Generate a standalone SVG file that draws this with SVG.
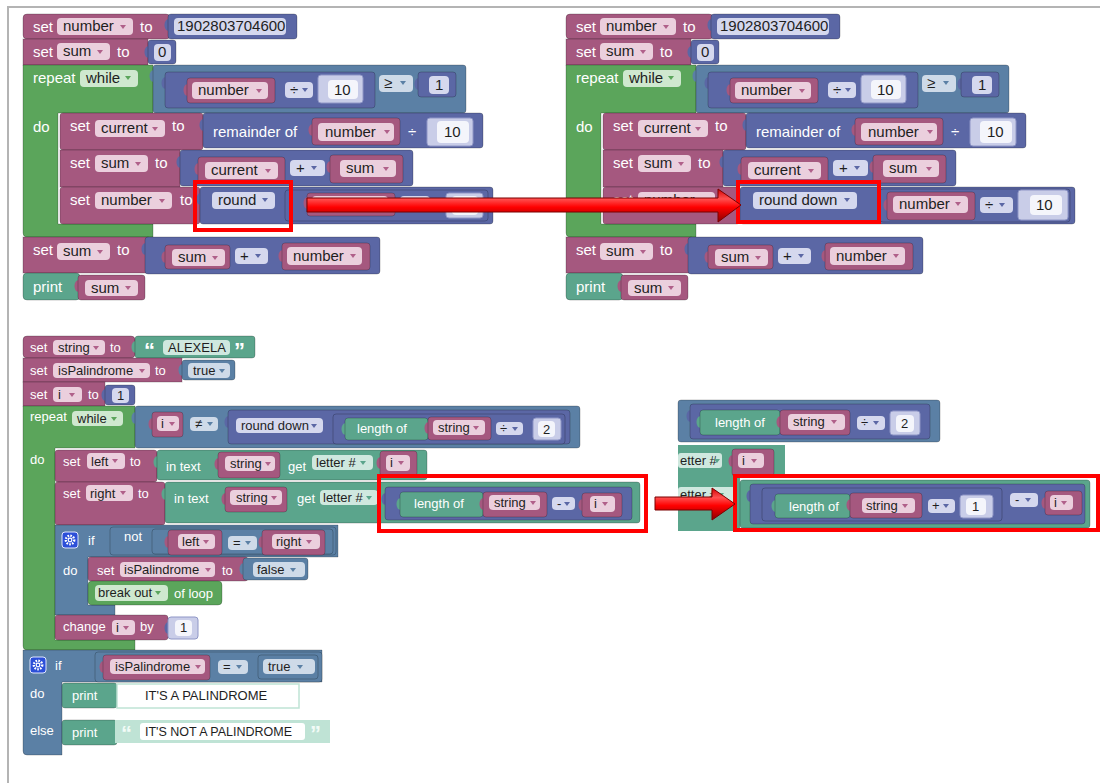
<svg xmlns="http://www.w3.org/2000/svg" xmlns:xlink="http://www.w3.org/1999/xlink" width="1100" height="783" viewBox="0 0 1100 783">
<style>
  text { font-family: "Liberation Sans", Arial, sans-serif; }
  .big text { font-size: 15px; }
  .small text { font-size: 13px; }
  .small text.q { font-size: 22px; font-weight: bold; }
  .w { fill: #fff; }
  .k { fill: #1e1e1e; }
  .b { stroke: rgba(0,0,0,0.22); stroke-width: 1; }
  .v { fill: #A5587F; }
  .m { fill: #5B67A5; }
  .l { fill: #5B80A5; }
  .g { fill: #5BA55B; }
  .t { fill: #5BA58C; }
  .sh { fill: #C9CDE8; stroke: #8f96c6; stroke-width: 1; }
  .fv { fill: #EBCFDD; }
  .fm { fill: #D5D8EE; }
  .fl { fill: #CEDAE8; }
  .fg { fill: #CFE8CF; }
  .ft { fill: #CFE8DF; }
  .fw { fill: #F4F5FB; }
  .av { fill: #B0608A; }
  .am { fill: #5B67A5; }
  .al { fill: #5B80A5; }
  .ag { fill: #5BA55B; }
  .at { fill: #5BA58C; }
  .box { fill: none; stroke: #FF0000; stroke-width: 4; }
  .arrow { fill: url(#redGlow); stroke: #7a0000; stroke-width: 1; }
</style>
<defs>
  <path id="dv" d="M0,0 h6 l-3,4 z"/>
  <path id="tab" d="M1,0 C-5,0 -5,12 1,12 Z"/>
  <g id="gear">
    <rect width="16" height="16" rx="3" fill="#2c4fd8" stroke="#dfe6ff"/>
    <circle cx="8" cy="8" r="4.2" fill="none" stroke="#fff" stroke-width="2.4" stroke-dasharray="1.6 1.2"/>
    <circle cx="8" cy="8" r="2.4" fill="#fff"/>
    <circle cx="8" cy="8" r="1.2" fill="#2c4fd8"/>
  </g>
  <linearGradient id="redGlow" x1="0" y1="0" x2="0" y2="1">
    <stop offset="0" stop-color="#d40000"/>
    <stop offset="0.3" stop-color="#ff5050"/>
    <stop offset="0.55" stop-color="#ff0000"/>
    <stop offset="1" stop-color="#8a0000"/>
  </linearGradient>
</defs>

<rect width="1100" height="783" fill="#fff"/>
<!-- page frame -->
<path d="M8,783 V7 H1100" fill="none" stroke="#b4b4b4" stroke-width="2"/>

<!-- ===== program 1 (shared rows) ===== -->
<g id="prog1" class="big">
  <g id="p1-set-number">
    <rect class="v b" x="23" y="14" width="147" height="25" rx="4"/>
    <text class="w" x="33" y="32">set</text>
    <rect class="fv" x="57" y="18" width="76" height="17" rx="4"/>
    <text class="k" x="63" y="31">number</text>
    <use href="#dv" x="120" y="25" class="av"/>
    <text class="w" x="140" y="32">to</text>
    <use href="#tab" x="168" y="19" class="m"/>
    <rect class="m b" x="168" y="14" width="129" height="25" rx="3"/>
    <rect class="fm" x="174" y="18" width="112" height="17" rx="4"/>
    <text class="k" x="177" y="31">1902803704600</text>
  </g>
  <g id="p1-set-sum">
    <rect class="v b" x="23" y="39" width="125" height="26"/>
    <text class="w" x="33" y="57">set</text>
    <rect class="fv" x="57" y="43" width="53" height="17" rx="4"/>
    <text class="k" x="63" y="56">sum</text>
    <use href="#dv" x="97" y="50" class="av"/>
    <text class="w" x="117" y="57">to</text>
    <use href="#tab" x="148" y="46" class="m"/>
    <rect class="m b" x="148" y="40" width="28" height="24" rx="3"/>
    <rect class="fm" x="154" y="44" width="17" height="17" rx="4"/>
    <text class="k" x="158" y="57">0</text>
  </g>
  <g id="p1-repeat">
    <path class="g b" d="M23,65 H153 V113 H58 V224 H153 V237 H27 Q23,237 23,233 Z"/>
    <text class="w" x="33" y="83">repeat</text>
    <rect class="fg" x="80" y="70" width="58" height="17" rx="4"/>
    <text class="k" x="86" y="83">while</text>
    <use href="#dv" x="125" y="76" class="ag"/>
    <text class="w" x="33" y="132">do</text>
    <use href="#tab" x="153" y="70" class="l"/>
    <rect class="l b" x="153" y="65" width="313" height="48" rx="3"/>
    <use href="#tab" x="165" y="77" class="m"/>
    <rect class="m b" x="165" y="72" width="210" height="36" rx="3"/>
    <use href="#tab" x="187" y="84" class="v"/>
    <rect class="v b" x="187" y="78" width="88" height="25" rx="3"/>
    <rect class="fv" x="192" y="82" width="76" height="17" rx="4"/>
    <text class="k" x="198" y="95">number</text>
    <use href="#dv" x="256" y="89" class="av"/>
    <rect class="fm" x="285" y="82" width="28" height="16" rx="4"/>
    <text class="k" x="290" y="95">÷</text>
    <use href="#dv" x="302" y="88" class="am"/>
    <use href="#tab" x="318" y="82" class="m"/>
    <rect class="sh" x="318" y="75" width="45" height="28" rx="3"/>
    <rect class="fw" x="328" y="80" width="30" height="19" rx="4"/>
    <text class="k" x="334" y="95">10</text>
    <rect class="fl" x="379" y="75" width="34" height="17" rx="4"/>
    <text class="k" x="384" y="88">≥</text>
    <use href="#dv" x="400" y="81" class="al"/>
    <use href="#tab" x="418" y="78" class="m"/>
    <rect class="m b" x="418" y="72" width="38" height="25" rx="3"/>
    <rect class="fm" x="429" y="76" width="20" height="18" rx="4"/>
    <text class="k" x="435" y="90">1</text>
  </g>
  <g id="p1-set-current">
    <rect class="v b" x="60" y="113" width="143" height="37" rx="3"/>
    <text class="w" x="70" y="131">set</text>
    <rect class="fv" x="95" y="120" width="70" height="17" rx="4"/>
    <text class="k" x="101" y="133">current</text>
    <use href="#dv" x="152" y="127" class="av"/>
    <text class="w" x="172" y="131">to</text>
    <use href="#tab" x="203" y="119" class="m"/>
    <rect class="m b" x="203" y="113" width="280" height="35" rx="3"/>
    <text class="w" x="213" y="137">remainder of</text>
    <use href="#tab" x="312" y="124" class="v"/>
    <rect class="v b" x="312" y="118" width="88" height="27" rx="3"/>
    <rect class="fv" x="318" y="123" width="76" height="18" rx="4"/>
    <text class="k" x="325" y="137">number</text>
    <use href="#dv" x="384" y="130" class="av"/>
    <text class="w" x="408" y="137">÷</text>
    <use href="#tab" x="427" y="124" class="m"/>
    <rect class="sh" x="427" y="118" width="46" height="28" rx="3"/>
    <rect class="fw" x="437" y="121" width="32" height="22" rx="4"/>
    <text class="k" x="444" y="137">10</text>
  </g>
  <g id="p1-set-sum-2">
    <rect class="v b" x="60" y="150" width="120" height="37"/>
    <text class="w" x="70" y="168">set</text>
    <rect class="fv" x="95" y="155" width="53" height="17" rx="4"/>
    <text class="k" x="101" y="168">sum</text>
    <use href="#dv" x="135" y="162" class="av"/>
    <text class="w" x="155" y="168">to</text>
    <use href="#tab" x="180" y="156" class="m"/>
    <rect class="m b" x="180" y="150" width="233" height="36" rx="3"/>
    <use href="#tab" x="198" y="163" class="v"/>
    <rect class="v b" x="198" y="157" width="87" height="26" rx="3"/>
    <rect class="fv" x="205" y="162" width="73" height="17" rx="4"/>
    <text class="k" x="211" y="175">current</text>
    <use href="#dv" x="265" y="169" class="av"/>
    <rect class="fm" x="290" y="160" width="35" height="16" rx="4"/>
    <text class="k" x="296" y="173">+</text>
    <use href="#dv" x="311" y="166" class="am"/>
    <use href="#tab" x="330" y="161" class="v"/>
    <rect class="v b" x="330" y="155" width="73" height="28" rx="3"/>
    <rect class="fv" x="340" y="160" width="56" height="17" rx="4"/>
    <text class="k" x="346" y="173">sum</text>
    <use href="#dv" x="383" y="167" class="av"/>
  </g>
  <g id="p1-set-sum-3">
    <rect class="v b" x="23" y="237" width="125" height="36"/>
    <text class="w" x="33" y="255">set</text>
    <rect class="fv" x="57" y="243" width="53" height="17" rx="4"/>
    <text class="k" x="63" y="256">sum</text>
    <use href="#dv" x="97" y="250" class="av"/>
    <text class="w" x="117" y="255">to</text>
    <use href="#tab" x="145" y="243" class="m"/>
    <rect class="m b" x="145" y="237" width="235" height="37" rx="3"/>
    <use href="#tab" x="165" y="251" class="v"/>
    <rect class="v b" x="165" y="245" width="65" height="24" rx="3"/>
    <rect class="fv" x="172" y="249" width="53" height="17" rx="4"/>
    <text class="k" x="178" y="262">sum</text>
    <use href="#dv" x="212" y="256" class="av"/>
    <rect class="fm" x="235" y="248" width="33" height="16" rx="4"/>
    <text class="k" x="240" y="261">+</text>
    <use href="#dv" x="255" y="254" class="am"/>
    <use href="#tab" x="282" y="250" class="v"/>
    <rect class="v b" x="282" y="243" width="88" height="27" rx="3"/>
    <rect class="fv" x="287" y="247" width="75" height="18" rx="4"/>
    <text class="k" x="293" y="261">number</text>
    <use href="#dv" x="350" y="254" class="av"/>
  </g>
  <g id="p1-print">
    <rect class="t b" x="23" y="273" width="57" height="27" rx="4"/>
    <text class="w" x="33" y="292">print</text>
    <use href="#tab" x="78" y="280" class="v"/>
    <rect class="v b" x="78" y="275" width="67" height="25" rx="3"/>
    <rect class="fv" x="85" y="280" width="53" height="16" rx="4"/>
    <text class="k" x="91" y="293">sum</text>
    <use href="#dv" x="125" y="286" class="av"/>
  </g>
</g>

<!-- program 1, "set number" row with round -->
<g id="p1-set-number-round" class="big">
  <rect class="v b" x="60" y="187" width="140" height="37" rx="3"/>
  <text class="w" x="70" y="205">set</text>
  <rect class="fv" x="95" y="192" width="77" height="17" rx="4"/>
  <text class="k" x="101" y="205">number</text>
  <use href="#dv" x="159" y="199" class="av"/>
  <text class="w" x="180" y="205">to</text>
  <use href="#tab" x="200" y="193" class="m"/>
  <rect class="m b" x="200" y="187" width="293" height="37" rx="3"/>
  <rect class="fm" x="212" y="192" width="63" height="17" rx="4"/>
  <text class="k" x="218" y="205">round</text>
  <use href="#dv" x="262" y="198" class="am"/>
  <use href="#tab" x="285" y="195" class="m"/>
  <rect class="m b" x="285" y="190" width="203" height="31" rx="3"/>
  <use href="#tab" x="307" y="197" class="v"/>
  <rect class="v b" x="307" y="193" width="88" height="23" rx="3"/>
  <rect class="fv" x="312" y="196" width="76" height="16" rx="4"/>
  <rect class="fm" x="400" y="196" width="30" height="15" rx="4"/>
  <rect class="sh" x="446" y="193" width="37" height="25" rx="3"/>
  <rect class="fw" x="452" y="196" width="26" height="19" rx="4"/>
</g>

<!-- ===== program 2 (same rows, shifted) ===== -->
<use id="prog2" href="#prog1" transform="translate(543,0)"/>
<g id="p2-set-number-rounddown" class="big">
  <rect class="v b" x="603" y="187" width="137" height="37" rx="3"/>
  <text class="w" x="613" y="205">set</text>
  <rect class="fv" x="638" y="192" width="77" height="17" rx="4"/>
  <text class="k" x="644" y="205">number</text>
  <use href="#dv" x="702" y="199" class="av"/>
  <use href="#tab" x="740" y="193" class="m"/>
  <rect class="m b" x="740" y="187" width="335" height="37" rx="3"/>
  <rect class="fm" x="753" y="192" width="104" height="17" rx="4"/>
  <text class="k" x="759" y="205">round down</text>
  <use href="#dv" x="844" y="198" class="am"/>
  <use href="#tab" x="880" y="195" class="m"/>
  <rect class="m b" x="880" y="189" width="190" height="33" rx="3"/>
  <use href="#tab" x="887" y="199" class="v"/>
  <rect class="v b" x="887" y="192" width="88" height="28" rx="3"/>
  <rect class="fv" x="893" y="196" width="75" height="17" rx="4"/>
  <text class="k" x="899" y="209">number</text>
  <use href="#dv" x="955" y="202" class="av"/>
  <rect class="fm" x="980" y="197" width="33" height="16" rx="4"/>
  <text class="k" x="985" y="210">÷</text>
  <use href="#dv" x="999" y="203" class="am"/>
  <use href="#tab" x="1018" y="198" class="m"/>
  <rect class="sh" x="1018" y="190" width="50" height="30" rx="3"/>
  <rect class="fw" x="1030" y="195" width="32" height="20" rx="4"/>
  <text class="k" x="1036" y="210">10</text>
</g>

<!-- ===== program 3: palindrome check ===== -->
<g id="prog3" class="small">
  <g id="p3-set-string">
    <rect class="v b" x="23" y="336" width="112" height="22" rx="4"/>
    <text class="w" x="30" y="352">set</text>
    <rect class="fv" x="53" y="340" width="52" height="15" rx="4"/>
    <text class="k" x="58" y="352">string</text>
    <use href="#dv" x="93" y="346" class="av"/>
    <text class="w" x="110" y="352">to</text>
    <use href="#tab" x="135" y="341" class="t"/>
    <rect class="t b" x="135" y="336" width="120" height="22" rx="3"/>
    <text class="w q" x="144" y="358">“</text>
    <rect class="ft" x="163" y="340" width="67" height="15" rx="4"/>
    <text class="k" x="168" y="352">ALEXELA</text>
    <text class="w q" x="234" y="358">”</text>
  </g>
  <g id="p3-set-ispal">
    <rect class="v b" x="23" y="358" width="159" height="24"/>
    <text class="w" x="30" y="375">set</text>
    <rect class="fv" x="53" y="363" width="97" height="15" rx="4"/>
    <text class="k" x="58" y="375">isPalindrome</text>
    <use href="#dv" x="139" y="369" class="av"/>
    <text class="w" x="155" y="375">to</text>
    <use href="#tab" x="182" y="364" class="l"/>
    <rect class="l b" x="182" y="360" width="53" height="20" rx="3"/>
    <rect class="fl" x="188" y="363" width="42" height="15" rx="4"/>
    <text class="k" x="193" y="375">true</text>
    <use href="#dv" x="219" y="369" class="al"/>
  </g>
  <g id="p3-set-i">
    <rect class="v b" x="23" y="382" width="82" height="24"/>
    <text class="w" x="30" y="399">set</text>
    <rect class="fv" x="53" y="387" width="29" height="15" rx="4"/>
    <text class="k" x="58" y="399">i</text>
    <use href="#dv" x="69" y="393" class="av"/>
    <text class="w" x="88" y="399">to</text>
    <use href="#tab" x="105" y="389" class="m"/>
    <rect class="m b" x="105" y="385" width="30" height="20" rx="3"/>
    <rect class="fm" x="112" y="388" width="17" height="15" rx="4"/>
    <text class="k" x="117" y="400">1</text>
  </g>
  <g id="p3-repeat">
    <path class="g b" d="M23,406 H135 V448 H55 V640 H135 V650 H27 Q23,650 23,646 Z"/>
    <text class="w" x="30" y="421">repeat</text>
    <rect class="fg" x="72" y="411" width="51" height="15" rx="4"/>
    <text class="k" x="77" y="423">while</text>
    <use href="#dv" x="111" y="417" class="ag"/>
    <text class="w" x="30" y="464">do</text>
    <use href="#tab" x="135" y="412" class="l"/>
    <rect class="l b" x="135" y="406" width="445" height="42" rx="3"/>
    <use href="#tab" x="152" y="418" class="v"/>
    <rect class="v b" x="152" y="412" width="31" height="25" rx="3"/>
    <rect class="fv" x="157" y="416" width="22" height="15" rx="4"/>
    <text class="k" x="161" y="428">i</text>
    <use href="#dv" x="169" y="422" class="av"/>
    <rect class="fl" x="190" y="417" width="28" height="14" rx="4"/>
    <text class="k" x="195" y="428">≠</text>
    <use href="#dv" x="207" y="422" class="al"/>
    <use href="#tab" x="228" y="416" class="m"/>
    <rect class="m b" x="228" y="410" width="342" height="34" rx="3"/>
    <rect class="fm" x="236" y="418" width="87" height="15" rx="4"/>
    <text class="k" x="241" y="430">round down</text>
    <use href="#dv" x="311" y="424" class="am"/>
    <use href="#tab" x="333" y="420" class="m"/>
    <rect class="m b" x="333" y="414" width="232" height="30" rx="3"/>
    <use href="#tab" x="345" y="423" class="t"/>
    <rect class="t b" x="345" y="418" width="83" height="22" rx="3"/>
    <text class="w" x="357" y="433">length of</text>
    <use href="#tab" x="428" y="422" class="v"/>
    <rect class="v b" x="428" y="417" width="63" height="23" rx="3"/>
    <rect class="fv" x="433" y="420" width="52" height="15" rx="4"/>
    <text class="k" x="438" y="432">string</text>
    <use href="#dv" x="473" y="426" class="av"/>
    <rect class="fm" x="496" y="422" width="27" height="13" rx="4"/>
    <text class="k" x="500" y="433">÷</text>
    <use href="#dv" x="512" y="427" class="am"/>
    <use href="#tab" x="533" y="423" class="m"/>
    <rect class="sh" x="533" y="418" width="28" height="22" rx="3"/>
    <rect class="fw" x="538" y="421" width="17" height="16" rx="4"/>
    <text class="k" x="543" y="434">2</text>
  </g>
  <g id="p3-set-left">
    <rect class="v b" x="55" y="450" width="102" height="32" rx="3"/>
    <text class="w" x="63" y="466">set</text>
    <rect class="fv" x="87" y="453" width="38" height="16" rx="4"/>
    <text class="k" x="91" y="465.5">left</text>
    <use href="#dv" x="112" y="459" class="av"/>
    <text class="w" x="130" y="466">to</text>
    <use href="#tab" x="157" y="456" class="t"/>
    <rect class="t b" x="157" y="450" width="270" height="30" rx="3"/>
    <text class="w" x="166" y="471">in text</text>
    <use href="#tab" x="218" y="458" class="v"/>
    <rect class="v b" x="218" y="452" width="62" height="26" rx="3"/>
    <rect class="fv" x="225" y="456" width="50" height="15" rx="4"/>
    <text class="k" x="230" y="468">string</text>
    <use href="#dv" x="265" y="462" class="av"/>
    <text class="w" x="288" y="471">get</text>
    <rect class="ft" x="312" y="455" width="61" height="15" rx="4"/>
    <text class="k" x="316" y="467">letter #</text>
    <use href="#dv" x="360" y="461" class="at"/>
    <use href="#tab" x="380" y="457" class="v"/>
    <rect class="v b" x="380" y="451" width="37" height="25" rx="3"/>
    <rect class="fv" x="386" y="455" width="24" height="16" rx="4"/>
    <text class="k" x="390" y="467">i</text>
    <use href="#dv" x="398" y="461" class="av"/>
  </g>
  <g id="p3-set-right">
    <rect class="v b" x="55" y="482" width="110" height="43" rx="3"/>
    <text class="w" x="63" y="498">set</text>
    <rect class="fv" x="86" y="485" width="47" height="16" rx="4"/>
    <text class="k" x="90" y="497.5">right</text>
    <use href="#dv" x="120" y="491" class="av"/>
    <text class="w" x="138" y="498">to</text>
    <use href="#tab" x="165" y="488" class="t"/>
    <rect class="t b" x="165" y="482" width="475" height="41" rx="3"/>
    <text class="w" x="174" y="503">in text</text>
    <use href="#tab" x="225" y="493" class="v"/>
    <rect class="v b" x="225" y="487" width="62" height="25" rx="3"/>
    <rect class="fv" x="230" y="490" width="52" height="15" rx="4"/>
    <text class="k" x="236" y="502">string</text>
    <use href="#dv" x="271" y="496" class="av"/>
    <text class="w" x="297" y="503">get</text>
    <rect class="ft" x="320" y="490" width="58" height="15" rx="4"/>
    <text class="k" x="323" y="502">letter #</text>
    <use href="#dv" x="366" y="496" class="at"/>
    <use href="#tab" x="385" y="493" class="m"/>
    <rect class="m b" x="385" y="487" width="247" height="33" rx="3"/>
    <use href="#tab" x="400" y="498" class="t"/>
    <rect class="t b" x="400" y="492" width="83" height="25" rx="3"/>
    <text class="w" x="414" y="508">length of</text>
    <use href="#tab" x="483" y="498" class="v"/>
    <rect class="v b" x="483" y="492" width="64" height="25" rx="3"/>
    <rect class="fv" x="489" y="495" width="51" height="15" rx="4"/>
    <text class="k" x="494" y="507">string</text>
    <use href="#dv" x="530" y="501" class="av"/>
    <rect class="fm" x="552" y="497" width="23" height="13" rx="4"/>
    <text class="k" x="557" y="508">-</text>
    <use href="#dv" x="564" y="502" class="am"/>
    <use href="#tab" x="582" y="499" class="v"/>
    <rect class="v b" x="582" y="493" width="40" height="24" rx="3"/>
    <rect class="fv" x="590" y="496" width="25" height="16" rx="4"/>
    <text class="k" x="594" y="508">i</text>
    <use href="#dv" x="602" y="502" class="av"/>
  </g>
  <g id="p3-if-not">
    <path class="l b" d="M55,525 H338 V557 H88 V605 H115 V615 H55 Z"/>
    <use href="#gear" x="62" y="532"/>
    <text class="w" x="88" y="545">if</text>
    <use href="#tab" x="110" y="532" class="l"/>
    <rect class="l b" x="110" y="527" width="226" height="28" rx="3"/>
    <text class="w" x="124" y="541">not</text>
    <use href="#tab" x="152" y="535" class="l"/>
    <rect class="l b" x="152" y="529" width="181" height="25" rx="3"/>
    <use href="#tab" x="168" y="536" class="v"/>
    <rect class="v b" x="168" y="530" width="54" height="25" rx="3"/>
    <rect class="fv" x="178" y="534" width="37" height="15" rx="4"/>
    <text class="k" x="182" y="546">left</text>
    <use href="#dv" x="203" y="540" class="av"/>
    <rect class="fl" x="228" y="536" width="29" height="14" rx="4"/>
    <text class="k" x="233" y="547">=</text>
    <use href="#dv" x="245" y="541" class="al"/>
    <use href="#tab" x="262" y="536" class="v"/>
    <rect class="v b" x="262" y="530" width="63" height="25" rx="3"/>
    <rect class="fv" x="272" y="534" width="48" height="15" rx="4"/>
    <text class="k" x="276" y="546">right</text>
    <use href="#dv" x="306" y="540" class="av"/>
    <text class="w" x="63" y="575">do</text>
  </g>
  <g id="p3-set-false">
    <rect class="v b" x="88" y="557" width="160" height="24" rx="3"/>
    <text class="w" x="97" y="575">set</text>
    <rect class="fv" x="120" y="562" width="95" height="15" rx="4"/>
    <text class="k" x="124" y="574">isPalindrome</text>
    <use href="#dv" x="205" y="568" class="av"/>
    <text class="w" x="222" y="575">to</text>
    <use href="#tab" x="243" y="563" class="l"/>
    <rect class="l b" x="243" y="558" width="65" height="22" rx="3"/>
    <rect class="fl" x="253" y="562" width="52" height="15" rx="4"/>
    <text class="k" x="257" y="574">false</text>
    <use href="#dv" x="290" y="568" class="al"/>
  </g>
  <g id="p3-break">
    <rect class="g b" x="88" y="581" width="134" height="24" rx="4"/>
    <rect class="fg" x="95" y="585" width="73" height="16" rx="4"/>
    <text class="k" x="98" y="597">break out</text>
    <use href="#dv" x="155" y="591" class="ag"/>
    <text class="w" x="174" y="598">of loop</text>
  </g>
  <g id="p3-change">
    <rect class="v b" x="55" y="615" width="113" height="25" rx="3"/>
    <text class="w" x="63" y="631">change</text>
    <rect class="fv" x="112" y="620" width="23" height="15" rx="4"/>
    <text class="k" x="116" y="632">i</text>
    <use href="#dv" x="123" y="626" class="av"/>
    <text class="w" x="140" y="631">by</text>
    <use href="#tab" x="168" y="622" class="m"/>
    <rect class="sh" x="168" y="617" width="30" height="22" rx="3"/>
    <rect class="fw" x="175" y="620" width="17" height="16" rx="4"/>
    <text class="k" x="180" y="632">1</text>
  </g>
  <g id="p3-if-else">
    <path class="l b" d="M23,650 H322 V682 H62 V755 H27 Q23,755 23,751 Z"/>
    <use href="#gear" x="30" y="657"/>
    <text class="w" x="55" y="670">if</text>
    <use href="#tab" x="95" y="659" class="l"/>
    <rect class="l b" x="95" y="652" width="227" height="30" rx="3"/>
    <use href="#tab" x="103" y="661" class="v"/>
    <rect class="v b" x="103" y="655" width="107" height="25" rx="3"/>
    <rect class="fv" x="110" y="659" width="95" height="15" rx="4"/>
    <text class="k" x="115" y="671">isPalindrome</text>
    <use href="#dv" x="195" y="665" class="av"/>
    <rect class="fl" x="218" y="660" width="30" height="14" rx="4"/>
    <text class="k" x="223" y="671">=</text>
    <use href="#dv" x="236" y="665" class="al"/>
    <use href="#tab" x="258" y="661" class="l"/>
    <rect class="l b" x="258" y="655" width="60" height="24" rx="3"/>
    <rect class="fl" x="263" y="659" width="52" height="15" rx="4"/>
    <text class="k" x="268" y="671">true</text>
    <use href="#dv" x="297" y="665" class="al"/>
    <text class="w" x="30" y="698">do</text>
    <text class="w" x="30" y="735">else</text>
  </g>
  <g id="p3-print-yes">
    <rect class="t b" x="62" y="683" width="55" height="25" rx="3"/>
    <text class="w" x="72" y="700">print</text>
    <rect x="117" y="684" width="182" height="24" fill="#fff" stroke="#bfe3d5" stroke-width="1.5"/>
    <text class="k" x="145" y="700">IT'S A PALINDROME</text>
  </g>
  <g id="p3-print-no">
    <rect class="t b" x="62" y="720" width="55" height="25" rx="3"/>
    <text class="w" x="72" y="737">print</text>
    <rect x="115" y="720" width="215" height="23" fill="#bfe3d5"/>
    <text class="q" x="121" y="741" fill="#f2fbf7">“</text>
    <rect x="140" y="723" width="165" height="17" rx="3" fill="#fff"/>
    <text class="k" x="145" y="736" style="font-size:12.5px">IT'S NOT A PALINDROME</text>
    <text class="q" x="310" y="741" fill="#f2fbf7">”</text>
  </g>
</g>

<!-- ===== cut-out fragment: right-hand expression ===== -->
<g id="fragment" class="small">
  <g id="frag-halflength">
    <rect class="l b" x="678" y="400" width="262" height="42" rx="3"/>
    <use href="#tab" x="690" y="410" class="m"/>
    <rect class="m b" x="690" y="404" width="240" height="35" rx="3"/>
    <use href="#tab" x="700" y="416" class="t"/>
    <rect class="t b" x="700" y="410" width="80" height="25" rx="3"/>
    <text class="w" x="715" y="427">length of</text>
    <use href="#tab" x="780" y="416" class="v"/>
    <rect class="v b" x="780" y="410" width="70" height="25" rx="3"/>
    <rect class="fv" x="788" y="414" width="57" height="16" rx="4"/>
    <text class="k" x="793" y="426">string</text>
    <use href="#dv" x="831" y="420" class="av"/>
    <rect class="fm" x="857" y="416" width="28" height="14" rx="4"/>
    <text class="k" x="861" y="427">÷</text>
    <use href="#dv" x="873" y="421" class="am"/>
    <use href="#tab" x="890" y="417" class="m"/>
    <rect class="sh" x="890" y="411" width="30" height="24" rx="3"/>
    <rect class="fw" x="896" y="415" width="18" height="17" rx="4"/>
    <text class="k" x="901" y="428">2</text>
  </g>
  <g id="frag-letters">
    <rect class="t" x="678" y="445" width="107" height="33"/>
    <rect class="t" x="678" y="478" width="62" height="53"/>
    <rect class="ft" x="678" y="453" width="44" height="15" rx="3"/>
    <text class="k" x="680" y="465">etter #</text>
    <use href="#dv" x="714" y="459" class="at"/>
    <use href="#tab" x="732" y="455" class="v"/>
    <rect class="v b" x="732" y="449" width="42" height="27" rx="3"/>
    <rect class="fv" x="738" y="453" width="26" height="15" rx="4"/>
    <text class="k" x="742" y="465">i</text>
    <use href="#dv" x="751" y="459" class="av"/>
    <rect class="ft" x="678" y="487" width="58" height="15" rx="3"/>
    <text class="k" x="680" y="499">etter #</text>
    <use href="#dv" x="718" y="493" class="at"/>
  </g>
  <g id="frag-minus">
    <rect class="t b" x="740" y="480" width="350" height="48" rx="3"/>
    <use href="#tab" x="750" y="490" class="m"/>
    <rect class="m b" x="750" y="484" width="335" height="40" rx="3"/>
    <use href="#tab" x="762" y="494" class="m"/>
    <rect class="m b" x="762" y="488" width="240" height="33" rx="3"/>
    <use href="#tab" x="775" y="500" class="t"/>
    <rect class="t b" x="775" y="494" width="75" height="24" rx="3"/>
    <text class="w" x="789" y="511">length of</text>
    <use href="#tab" x="850" y="499" class="v"/>
    <rect class="v b" x="850" y="493" width="72" height="25" rx="3"/>
    <rect class="fv" x="862" y="498" width="53" height="15" rx="4"/>
    <text class="k" x="866" y="510">string</text>
    <use href="#dv" x="902" y="504" class="av"/>
    <rect class="fm" x="928" y="499" width="27" height="14" rx="4"/>
    <text class="k" x="932" y="510">+</text>
    <use href="#dv" x="943" y="504" class="am"/>
    <use href="#tab" x="960" y="501" class="m"/>
    <rect class="sh" x="960" y="495" width="33" height="23" rx="3"/>
    <rect class="fw" x="966" y="498" width="20" height="17" rx="4"/>
    <text class="k" x="972" y="511">1</text>
    <rect class="fm" x="1010" y="493" width="28" height="14" rx="4"/>
    <text class="k" x="1015" y="504">-</text>
    <use href="#dv" x="1025" y="498" class="am"/>
    <use href="#tab" x="1045" y="497" class="v"/>
    <rect class="v b" x="1045" y="491" width="37" height="24" rx="3"/>
    <rect class="fv" x="1050" y="495" width="23" height="15" rx="4"/>
    <text class="k" x="1054" y="507">i</text>
    <use href="#dv" x="1061" y="501" class="av"/>
  </g>
</g>

<!-- ===== highlight boxes and arrows ===== -->
<g id="connectors">
  <rect class="box" x="195" y="182" width="96" height="48"/>
  <rect class="box" x="738" y="182" width="141" height="40"/>
  <rect class="box" x="379" y="476" width="267" height="55"/>
  <rect class="box" x="735" y="476" width="363" height="54"/>
  <path class="arrow" d="M307,198 H718 V189 L741,205 L718,222 V212 H307 Z"/>
  <path class="arrow" d="M655,497 H712 V488 L735,504 L712,520 V510 H655 Z"/>
</g>
</svg>
